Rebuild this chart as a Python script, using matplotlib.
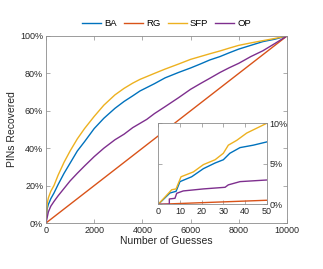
import matplotlib
matplotlib.use("Agg")
import matplotlib.pyplot as plt
from matplotlib.ticker import FuncFormatter

plt.rcParams['font.family'] = ['Liberation Sans', 'DejaVu Sans']

# ---- main data (guesses, % recovered) ----
ba_x = [0, 50, 100, 200, 330, 500, 750, 1000, 1300, 1600, 2000, 2400, 2860, 3240, 3600, 3900,
        4500, 4940, 5500, 6000, 6400, 6800, 7220, 7600, 8000, 8500, 9000, 9500, 10000]
ba_y = [0, 7.7, 10, 13, 16, 20.5, 26.6, 32, 38.5, 43.5, 50.5, 56, 61.3, 65, 68, 70.6,
        74.5, 77.6, 80.5, 82.9, 85, 87.2, 89, 91, 93, 95, 97, 98.3, 100]
sfp_x = [0, 50, 100, 200, 330, 500, 750, 1000, 1300, 1600, 2000, 2400, 2860, 3240, 3600, 3900,
         4500, 4940, 5500, 6000, 6400, 6800, 7220, 7600, 8000, 8500, 9000, 9500, 10000]
sfp_y = [0, 10.5, 13.5, 17, 20, 25.5, 32.5, 38.5, 45, 50.5, 57, 63, 68.5, 72, 74.8, 76.8,
         80, 82.3, 85, 87.5, 89, 90.5, 92, 93.5, 95, 96.3, 97.5, 98.7, 100]
op_x = [0, 50, 100, 200, 330, 500, 750, 1000, 1300, 1600, 2000, 2400, 2860, 3240, 3600, 4180,
        4500, 4940, 5500, 6000, 6400, 6800, 7220, 7600, 8000, 8500, 9000, 9500, 10000]
op_y = [0, 3, 6, 9, 11.5, 14.5, 18.5, 22.5, 26.6, 30.5, 35.5, 40, 44.5, 47.5, 51, 55.4,
        58.5, 62.2, 67, 71.5, 74.5, 77.4, 80.5, 83, 85.4, 89, 92.1, 96, 100]
rg_x = [0, 10000]
rg_y = [0, 100]

# ---- inset data (first 50 guesses) ----
ba_ix = [0, 5.4, 8.2, 10, 15.4, 20.8, 26.2, 30, 33, 37.7, 43.8, 50]
ba_iy = [0, 1.4, 1.6, 2.8, 3.4, 4.4, 5.1, 5.5, 6.3, 7.0, 7.3, 7.7]
sfp_ix = [0, 6.2, 8.2, 10.5, 16.2, 20.8, 26.2, 30, 32.3, 36.2, 40.8, 45.4, 50]
sfp_iy = [0, 1.8, 1.9, 3.4, 4.0, 4.9, 5.5, 6.3, 7.3, 7.9, 8.8, 9.4, 10]
op_ix = [0, 5.1, 5.1, 7.7, 8.5, 11.5, 20.8, 30.8, 32.3, 37.7, 43.8, 50]
op_iy = [0, 0, 0.66, 0.74, 1.36, 1.65, 1.9, 2.1, 2.4, 2.8, 2.9, 3.0]
rg_ix = [0, 50]
rg_iy = [0, 0.5]

labels = ['BA', 'RG', 'SFP', 'OP']
colors = ['#0072BD', '#D95319', '#EDB120', '#7E2F8E']
main_x_ticks = [0, 2000, 4000, 6000, 8000, 10000]
main_y_ticks = [0, 20, 40, 60, 80, 100]
inset_x_ticks = [0, 10, 20, 30, 40, 50]
inset_y_ticks = [0, 5, 10]

spine_c = '#8c8c8c'
text_c = '#262626'
pct = FuncFormatter(lambda v, p: f"{v:g}%")


def style(ax):
    for s in ax.spines.values():
        s.set_color(spine_c)
        s.set_linewidth(0.6)
    ax.tick_params(direction='in', length=3, width=0.5, color=spine_c,
                   labelsize=6.5, labelcolor=text_c, pad=2)


fig = plt.figure(figsize=(3.23, 2.69), dpi=100)
ax = fig.add_axes([0.1424, 0.171, 0.7461, 0.6952])
series = [(ba_x, ba_y), (rg_x, rg_y), (sfp_x, sfp_y), (op_x, op_y)]
for (x, y), lab, c in zip(series, labels, colors):
    ax.plot(x, y, color=c, lw=1.0, label=lab)
ax.set_xlim(0, 10000)
ax.set_ylim(0, 100)
ax.set_xticks(main_x_ticks)
ax.set_yticks(main_y_ticks)
ax.yaxis.set_major_formatter(pct)
ax.tick_params(top=True, right=True)
style(ax)
ax.set_xlabel('Number of Guesses', fontsize=7.5, color=text_c, labelpad=1)
ax.set_ylabel('PINs Recovered', fontsize=7.5, color=text_c, labelpad=2)
ax.legend(loc='lower center', bbox_to_anchor=(0.5, 1.02), ncol=4, frameon=False,
          fontsize=6.8, handlelength=2.0, handletextpad=0.3, columnspacing=0.8,
          borderaxespad=0)

ins = fig.add_axes([0.490, 0.2405, 0.3357, 0.3011])
ins.set_facecolor('white')
iseries = [(ba_ix, ba_iy), (rg_ix, rg_iy), (sfp_ix, sfp_iy), (op_ix, op_iy)]
for (x, y), c in zip(iseries, colors):
    ins.plot(x, y, color=c, lw=1.0)
ins.set_xlim(0, 50)
ins.set_ylim(0, 10)
ins.set_xticks(inset_x_ticks)
ins.set_yticks(inset_y_ticks)
ins.yaxis.set_major_formatter(pct)
ins.yaxis.tick_right()
ins.tick_params(top=True, left=True, right=True, labelleft=False, labelright=True)
style(ins)

fig.savefig('out.png', dpi=100)
